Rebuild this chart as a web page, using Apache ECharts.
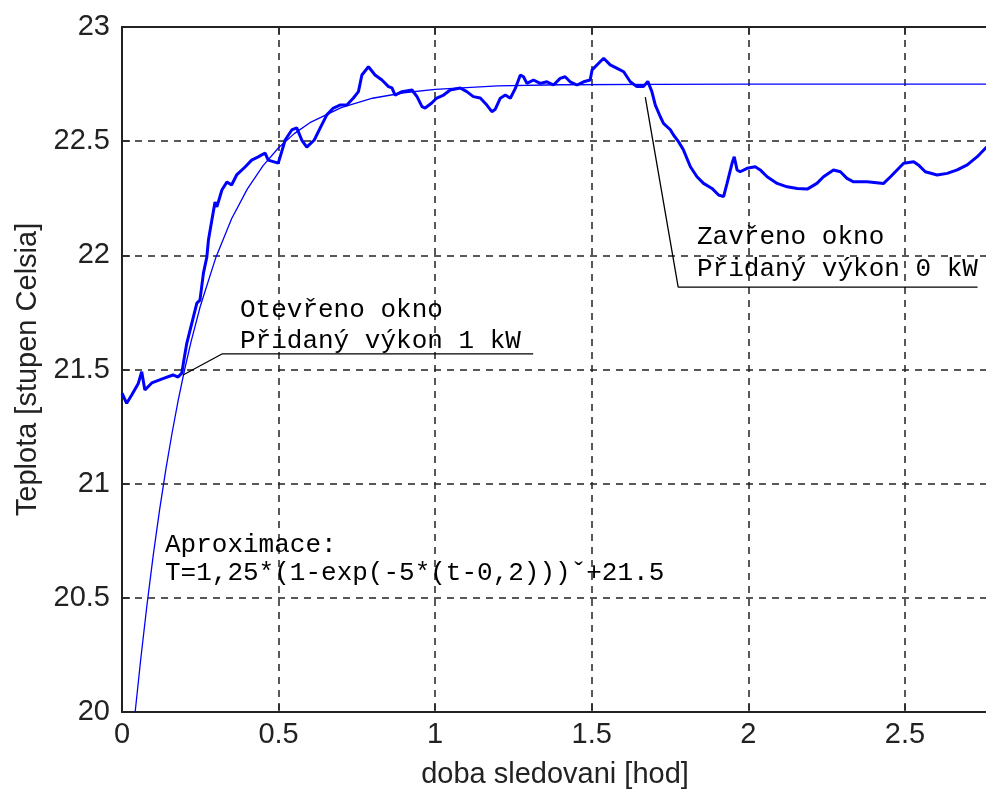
<!DOCTYPE html>
<html><head><meta charset="utf-8">
<script src="https://cdn.jsdelivr.net/npm/echarts@6/dist/echarts.min.js"></script>
<style>html,body{margin:0;padding:0;background:#fff;overflow:hidden}#c{width:986px;height:791px}</style>
</head><body><div id="c"></div>
<script>
// Measured temperature (hours, °C)
const measuredTime = [0.000,0.015,0.031,0.052,0.063,0.073,0.095,0.137,0.163,0.179,0.191,0.196,0.207,0.223,0.239,0.249,0.260,0.271,0.276,0.287,0.297,0.303,0.319,0.335,0.350,0.366,0.393,0.414,0.435,0.457,0.467,0.499,0.505,0.521,0.542,0.558,0.574,0.590,0.614,0.633,0.654,0.675,0.696,0.718,0.739,0.755,0.766,0.787,0.808,0.830,0.851,0.862,0.872,0.894,0.926,0.942,0.958,0.968,0.989,1.005,1.027,1.048,1.080,1.101,1.122,1.144,1.165,1.181,1.192,1.208,1.224,1.240,1.256,1.272,1.282,1.293,1.314,1.335,1.357,1.378,1.399,1.415,1.431,1.453,1.474,1.495,1.501,1.522,1.538,1.559,1.581,1.602,1.623,1.644,1.665,1.679,1.692,1.703,1.719,1.729,1.751,1.761,1.777,1.793,1.815,1.836,1.857,1.884,1.905,1.921,1.932,1.948,1.955,1.964,1.974,1.996,2.022,2.038,2.060,2.092,2.124,2.156,2.188,2.219,2.240,2.272,2.294,2.315,2.336,2.379,2.432,2.454,2.475,2.496,2.528,2.543,2.565,2.603,2.635,2.667,2.699,2.731,2.757,2.775];
const measuredTemp = [21.396,21.352,21.388,21.439,21.490,21.410,21.441,21.463,21.476,21.467,21.484,21.528,21.616,21.703,21.791,21.804,21.922,21.993,22.067,22.155,22.233,22.212,22.286,22.321,22.308,22.352,22.387,22.417,22.431,22.448,22.417,22.404,22.431,22.505,22.549,22.558,22.505,22.474,22.505,22.558,22.615,22.645,22.658,22.658,22.689,22.717,22.790,22.826,22.790,22.768,22.739,22.733,22.702,22.717,22.724,22.695,22.651,22.645,22.667,22.689,22.702,22.724,22.733,22.717,22.695,22.689,22.658,22.629,22.640,22.688,22.702,22.688,22.731,22.790,22.782,22.753,22.768,22.753,22.760,22.746,22.775,22.782,22.760,22.746,22.760,22.768,22.812,22.841,22.863,22.834,22.819,22.804,22.760,22.739,22.739,22.762,22.717,22.658,22.607,22.578,22.550,22.527,22.498,22.461,22.388,22.344,22.315,22.293,22.264,22.257,22.315,22.403,22.432,22.374,22.366,22.381,22.388,22.374,22.344,22.315,22.300,22.293,22.290,22.315,22.344,22.374,22.366,22.337,22.322,22.322,22.315,22.344,22.374,22.403,22.410,22.396,22.366,22.352,22.359,22.374,22.396,22.432,22.469,22.490];
// Approximation curve values
const approxTime = [0.042,0.06,0.08,0.10,0.12,0.14,0.16,0.18,0.20,0.22,0.25,0.30,0.35,0.40,0.45,0.50,0.55,0.60,0.70,0.80,0.90,1.00,1.20,1.40,1.70,2.00,2.81];
const approxTemp = [20.000,20.233,20.472,20.689,20.885,21.063,21.223,21.369,21.500,21.619,21.777,21.992,22.160,22.290,22.392,22.471,22.533,22.581,22.647,22.688,22.712,22.727,22.742,22.747,22.749,22.750,22.750];
// Annotation leader lines (data coords)
const note1Time = [0.195,0.319,1.313];
const note1Temp = [21.476,21.568,21.568];
const note2Time = [1.671,1.776,2.732];
const note2Temp = [22.693,21.861,21.861];
const note1Text = ['Otevřeno okno','Přidaný výkon 1 kW'];
const note2Text = ['Zavřeno okno','Přidaný výkon 0 kW'];
const note3Text = ['Aproximace:','T=1,25*(1-exp(-5*(t-0,2)))ˇ+21.5'];
const xTitle = 'doba sledovani [hod]';
const yTitle = 'Teplota [stupen Celsia]';

const zip = (a,b) => a.map((v,i)=>[v,b[i]]);
const chart = echarts.init(document.getElementById('c'));
const axisFont = {fontFamily:'Liberation Sans, Arial, sans-serif', fontSize:29, color:'#222'};
const monoFont = 'Liberation Mono, Courier New, monospace';
const lab = v => (Math.abs(v*2-Math.round(v*2))<1e-6 ? String(v) : '');
const xMax = 2.81;

function textItem(txt, x, y){
  return {type:'text', x:x, y:y, style:{text:txt, font:'26px '+monoFont, fill:'#000', textVerticalAlign:'middle', textAlign:'left'}, z:10};
}

chart.setOption({
  animation:false,
  backgroundColor:'#ffffff',
  grid:{left:122, top:27, width:880, height:685, containLabel:false, outerBoundsMode:'none'},
  xAxis:[{
    type:'value', min:0, max:xMax, interval:0.5, position:'bottom',
    name:xTitle, nameLocation:'middle', nameGap:48,
    nameTextStyle:{fontFamily:'Liberation Sans, Arial, sans-serif', fontSize:29, color:'#222', padding:[0,14,0,0]},
    axisLine:{show:true, onZero:false, lineStyle:{color:'#222', width:2}},
    axisTick:{show:true, inside:true, length:8, lineStyle:{color:'#222', width:1.5}},
    axisLabel:Object.assign({margin:8, formatter:lab, showMaxLabel:false}, axisFont),
    splitLine:{show:true, lineStyle:{color:'#222', width:1.5, type:[7,6]}}
  },{
    type:'value', min:0, max:xMax, interval:0.5, position:'top',
    axisLine:{show:true, onZero:false, lineStyle:{color:'#222', width:2}},
    axisTick:{show:true, inside:true, length:8, lineStyle:{color:'#222', width:1.5}},
    axisLabel:{show:false}, splitLine:{show:false}
  }],
  yAxis:[{
    type:'value', min:20, max:23, interval:0.5,
    name:yTitle, nameLocation:'middle', nameGap:78, nameRotate:90,
    nameTextStyle:{fontFamily:'Liberation Sans, Arial, sans-serif', fontSize:29, color:'#222'},
    axisLine:{show:true, onZero:false, lineStyle:{color:'#222', width:2}},
    axisTick:{show:true, inside:true, length:8, lineStyle:{color:'#222', width:1.5}},
    axisLabel:Object.assign({margin:12, formatter:v=>String(v)}, axisFont),
    splitLine:{show:true, lineStyle:{color:'#222', width:1.5, type:[7,6]}}
  }],
  series:[
    {type:'line', name:'aprox', data:zip(approxTime, approxTemp), showSymbol:false, symbol:'none',
     lineStyle:{color:'#0000ff', width:1.3}, clip:true, z:3},
    {type:'line', name:'mereni', data:zip(measuredTime, measuredTemp), showSymbol:false, symbol:'none',
     lineStyle:{color:'#0000ff', width:3}, clip:true, z:4},
    {type:'line', name:'n1', data:zip(note1Time, note1Temp), showSymbol:false, symbol:'none',
     lineStyle:{color:'#000', width:1.3}, z:5},
    {type:'line', name:'n2', data:zip(note2Time, note2Temp), showSymbol:false, symbol:'none',
     lineStyle:{color:'#000', width:1.3}, z:5}
  ],
  graphic:[
    textItem(note1Text[0], 240, 310),
    textItem(note1Text[1], 240, 341),
    textItem(note2Text[0], 697, 237),
    textItem(note2Text[1], 697, 269),
    textItem(note3Text[0], 165, 545),
    textItem(note3Text[1], 165, 573)
  ]
});
</script>
</body></html>
